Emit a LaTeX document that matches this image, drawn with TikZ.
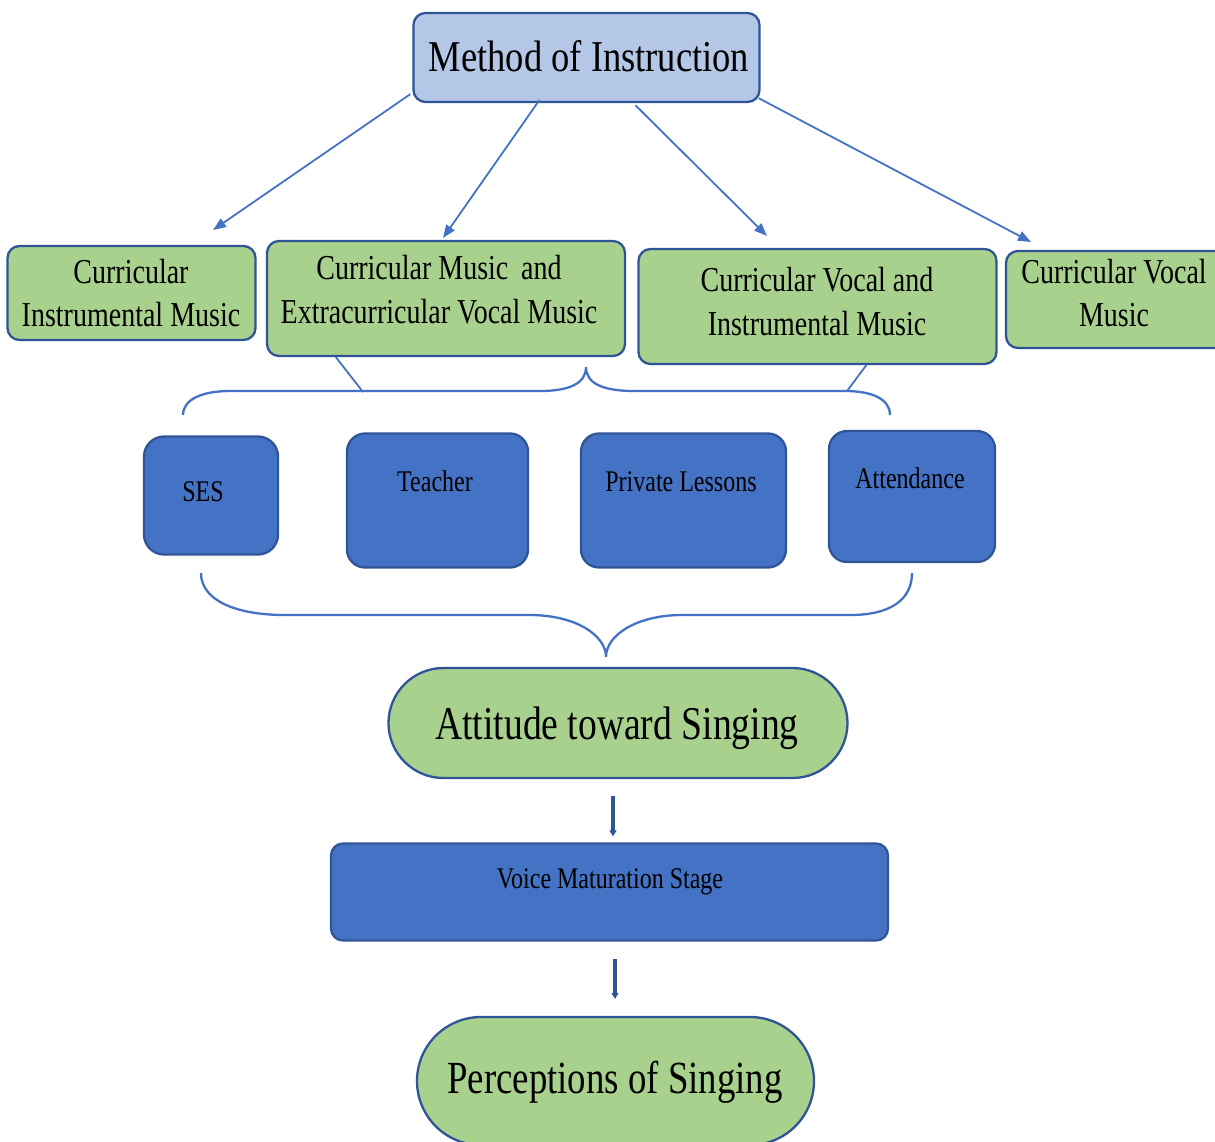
\documentclass[tikz,border=0pt]{standalone}
\usepackage{fontspec}
\setmainfont{Liberation Serif}
\newfontfamily\cond[FakeStretch=0.8]{Liberation Serif}
\newfontfamily\condm[FakeStretch=0.83]{Liberation Serif}
\usetikzlibrary{arrows.meta,calc}
\definecolor{gfill}{HTML}{A9D18E}
\definecolor{lbfill}{HTML}{B4C7E7}
\definecolor{bfill}{HTML}{4472C4}
\definecolor{bord}{HTML}{2F5597}
\definecolor{conn}{HTML}{4472C4}
\begin{document}
\begin{tikzpicture}[x=1pt,y=-1pt,
  box/.style={draw=bord, line width=2.3pt, inner sep=0pt, rounded corners=12pt},
  gbox/.style={box, fill=gfill},
  bbox/.style={box, fill=bfill, rounded corners=18pt},
  txt/.style={anchor=base, inner sep=0pt, text=black},
  gtxt/.style={txt, font=\cond\fontsize{35}{42}\selectfont},
  btxt/.style={txt, font=\cond\fontsize{30}{36}\selectfont},
  conarrow/.style={draw=conn, line width=1.8pt, -{Triangle[length=13pt,width=10pt]}},
  darrow/.style={draw=bord, line width=3.5pt, -{Triangle[length=6pt,width=7pt]}},
  brace/.style={draw=conn, line width=2.3pt},
]
\path[use as bounding box] (0,0) rectangle (1215,1141);
\clip (0,0) rectangle (1215,1141);

% top box
\node[box, fill=lbfill, minimum width=346, minimum height=89] (method) at (586.5,57.5) {};
\node[txt, font=\condm\fontsize{44}{50}\selectfont] (methodt) at (589,71) {Method of Instruction};

% green boxes
\node[gbox, minimum width=248, minimum height=94] (g1) at (131.5,293) {};
\node[gtxt] (g1a) at (131,283) {Curricular};
\node[gtxt] (g1b) at (131,326.5) {Instrumental Music};

\node[gbox, minimum width=358, minimum height=115] (g2) at (446,298.5) {};
\node[gtxt] (g2a) at (439,279.5) {Curricular Music\, and};
\node[gtxt] (g2b) at (439,323) {Extracurricular Vocal Music};

\node[gbox, minimum width=358, minimum height=115] (g3) at (817.5,306.5) {};
\node[gtxt] (g3a) at (817,291) {Curricular Vocal and};
\node[gtxt] (g3b) at (817,335) {Instrumental Music};

\node[gbox, minimum width=260, minimum height=97] (g4) at (1136,299.5) {};
\node[gtxt] (g4a) at (1114,283) {Curricular Vocal};
\node[gtxt] (g4b) at (1114,326.5) {Music};

% arrows from method
\coordinate (t1) at (213,230);
\coordinate (t2) at (443,238);
\coordinate (t3) at (767,236);
\coordinate (t4) at (1031,242);
\draw[conarrow] ($(method.south west)+(-2,-9)$) -- (t1);
\draw[conarrow] ($(method.south west)+(127,-3)$) -- (t2);
\draw[conarrow] ($(method.south west)+(223,2)$) -- (t3);
\draw[conarrow] ($(method.south east)+(-2,-5)$) -- (t4);

% upper brace
\coordinate (ub1) at (363,392);
\coordinate (ub2) at (847,391);
\draw[brace] (183,415) .. controls (183,399) and (203,391) .. (230,391) -- (540,391)
  .. controls (570,391) and (586,383) .. (586,367)
  .. controls (586,383) and (602,391) .. (634,391) -- (845,391)
  .. controls (872,391) and (890,399) .. (890,415);
\draw[brace, line width=1.8pt] (g2.south west) ++(70,0) -- (ub1);
\draw[brace, line width=1.8pt] (g3.south west) ++(229,0) -- (ub2);

% blue boxes
\node[bbox, rounded corners=20pt, minimum width=134, minimum height=118] (ses) at (211,495.5) {};
\node[btxt] (sest) at (203,501.5) {SES};
\node[bbox, minimum width=181, minimum height=134] (teacher) at (437.5,500.5) {};
\node[btxt] (teachert) at (435,491.5) {Teacher};
\node[bbox, minimum width=205, minimum height=134] (private) at (683.5,500.5) {};
\node[btxt] (privatet) at (681,491.5) {Private Lessons};
\node[bbox, minimum width=166, minimum height=131] (attend) at (912,496.5) {};
\node[btxt] (attendt) at (910,488.5) {Attendance};

% lower brace
\draw[brace] (201,573) .. controls (201,600) and (235,615) .. (285,615) -- (530,615)
  .. controls (575,615) and (606,635) .. (606,657)
  .. controls (606,635) and (637,615) .. (682,615) -- (850,615)
  .. controls (890,615) and (912,600) .. (912,573);

% attitude
\node[box, fill=gfill, rounded corners=55pt, minimum width=459, minimum height=110] (att) at (618,723) {};
\node[txt, font=\cond\fontsize{47}{54}\selectfont] (attt) at (617,739) {Attitude toward Singing};

% voice
\node[box, fill=bfill, minimum width=557, minimum height=97] (voice) at (609.5,892) {};
\node[btxt] (voicet) at (610,888) {Voice Maturation Stage};

% perceptions
\node[box, fill=gfill, rounded corners=64pt, minimum width=397, minimum height=128] (perc) at (615.5,1081) {};
\node[txt, font=\cond\fontsize{46}{52}\selectfont] (perct) at (615,1093) {Perceptions of Singing};

% small arrows
\draw[darrow, shorten <=17pt, shorten >=6pt] ([xshift=3.5pt]voice.north |- att.south) -- ([xshift=3.5pt]voice.north);
\draw[darrow, shorten >=17pt, shorten <=17pt] ([xshift=5.5pt]voice.south) -- ([xshift=5.5pt]voice.south |- perc.north);
\end{tikzpicture}
\end{document}
